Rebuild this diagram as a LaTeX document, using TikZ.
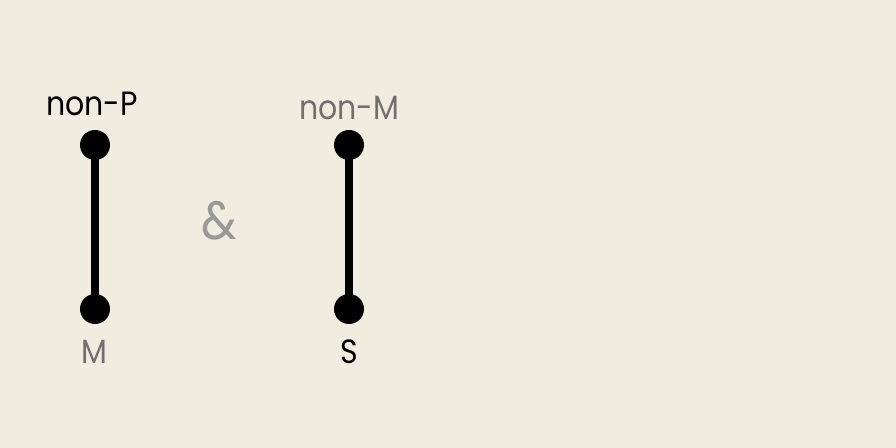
\documentclass[tikz,border=0pt]{standalone}
\usepackage{fontspec}
\setmainfont{Poppins}
\usepackage{tikz}
\definecolor{paper}{HTML}{F0ECE0}
\definecolor{dimText}{HTML}{707070}
\definecolor{ampText}{HTML}{999999}
\newcommand{\termBar}[2]{%%
  %% The bar between two terms.
  \draw[barStyle] (#1) -- (#2);
  %% The end points of the bar.
  \fill (#1) circle (15);
  \fill (#2) circle (15);
}

\begin{document}
\begin{tikzpicture}[%%
  x=0.5pt,y=-0.5pt,%%
  barStyle/.style={-,line width=4pt},%%
  termStyle/.style={font=\fontsize{15}{17}\selectfont,inner sep=0pt,yscale=1.12,transform shape},%%
]
%%
%%
%% The background of the picture.
\fill[paper] (0,0) rectangle (896,448);
\useasboundingbox (0,0) rectangle (896,448);
%% The end points of the two bars.
\coordinate (leftTop) at (95,145);
\coordinate (leftBottom) at (95,309);
\coordinate (rightTop) at (349,145);
\coordinate (rightBottom) at (349,309);
%%
%%
%% Illustrate the two bars.
\termBar{leftTop}{leftBottom}
\termBar{rightTop}{rightBottom}
%% Label the terms.
\node[termStyle] (nonP) at (92,104) {non-P};
\node[termStyle,text=dimText] (termM) at (94,352) {M};
\node[termStyle,text=dimText] (nonM) at (349,108) {non-M};
\node[termStyle] (termS) at (349,352) {S};
\node[termStyle,text=ampText,font=\fontsize{24}{26}\selectfont] (amp) at (219,221) {\&};
\end{tikzpicture}
\end{document}
